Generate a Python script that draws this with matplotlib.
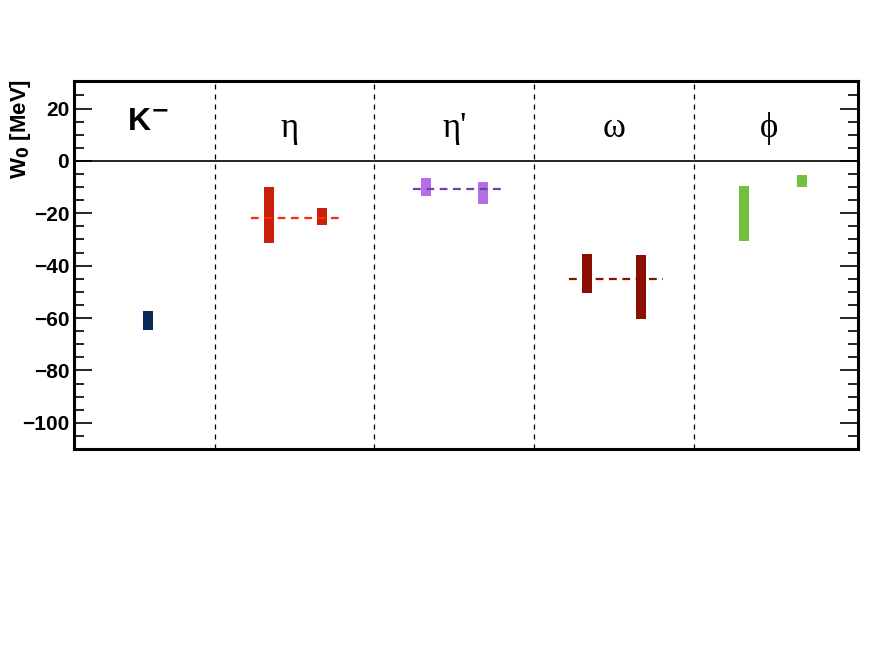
import numpy as np
import matplotlib.pyplot as plt
from matplotlib.ticker import MultipleLocator

# particle sections
labels = ['K$^{\\mathbf{-}}$', 'η', "η'", 'ω', 'ϕ']
label_x = [0.58, 1.47, 2.5, 3.5, 4.47]

# bands (x position, lower, upper) in MeV
bar_x = [0.58, 1.34, 1.67, 2.32, 2.68, 3.33, 3.67, 4.31, 4.675]
bar_lo = [-64.5, -31.5, -24.5, -13.5, -16.5, -50.5, -60.5, -30.5, -10]
bar_hi = [-57.5, -10, -18, -6.5, -8, -35.5, -36, -9.5, -5.5]
bar_col = ['#0b2a55', '#c8200a', '#c8200a', '#b46ee8', '#b46ee8',
           '#8b0f00', '#8b0f00', '#72c042', '#72c042']

# mean values (dashed)
mean_x0 = [1.225, 2.24, 3.22]
mean_x1 = [1.81, 2.825, 3.805]
mean_y = [-21.8, -10.9, -45.2]
mean_col = ['#ff2a10', '#7040a8', '#8b0f00']

plt.rcParams['font.family'] = ['Liberation Sans', 'DejaVu Sans']

fig = plt.figure(figsize=(8.72, 6.54), dpi=100)
ax = fig.add_axes([0.0849, 0.3135, 0.8990, 0.5626])

for x, lo, hi, c in zip(bar_x, bar_lo, bar_hi, bar_col):
    ax.bar(x, hi - lo, bottom=lo, width=0.0625, color=c, zorder=3)

for x0, x1, y, c in zip(mean_x0, mean_x1, mean_y, mean_col):
    ax.plot([x0, x1], [y, y], ls=(0, (3.5, 2.5)), color=c, lw=1.6, zorder=4)

ax.axhline(0, color='black', lw=1.2)
for d in [1, 2, 3, 4]:
    ax.axvline(d, color='black', lw=0.9, ls=(0, (4, 4)))

ax.text(label_x[0], 15, labels[0], ha='center', va='center', fontsize=23,
        fontweight='bold')
for lx, lab in zip(label_x[1:], labels[1:]):
    ax.text(lx, 12.5, lab, ha='center', va='center', fontsize=25,
            family=['Liberation Serif', 'DejaVu Serif'])

ax.set_xlim(0.12, 5.025)
ax.set_ylim(-110, 30.5)
ax.set_xticks([])
ax.yaxis.set_major_locator(MultipleLocator(20))
ax.yaxis.set_minor_locator(MultipleLocator(5))
ax.tick_params(axis='y', which='both', direction='in', right=True, width=1.2,
               labelsize=15)
ax.tick_params(axis='y', which='major', length=13)
ax.tick_params(axis='y', which='minor', length=7)
for lab in ax.get_yticklabels():
    lab.set_fontweight('bold')
for s in ax.spines.values():
    s.set_linewidth(2.2)

fig.text(0.024, 0.88, 'W$_\\mathbf{0}$ [MeV]', rotation=90, ha='center', va='top',
         fontsize=16, fontweight='bold')

fig.savefig('out.png', dpi=100)
